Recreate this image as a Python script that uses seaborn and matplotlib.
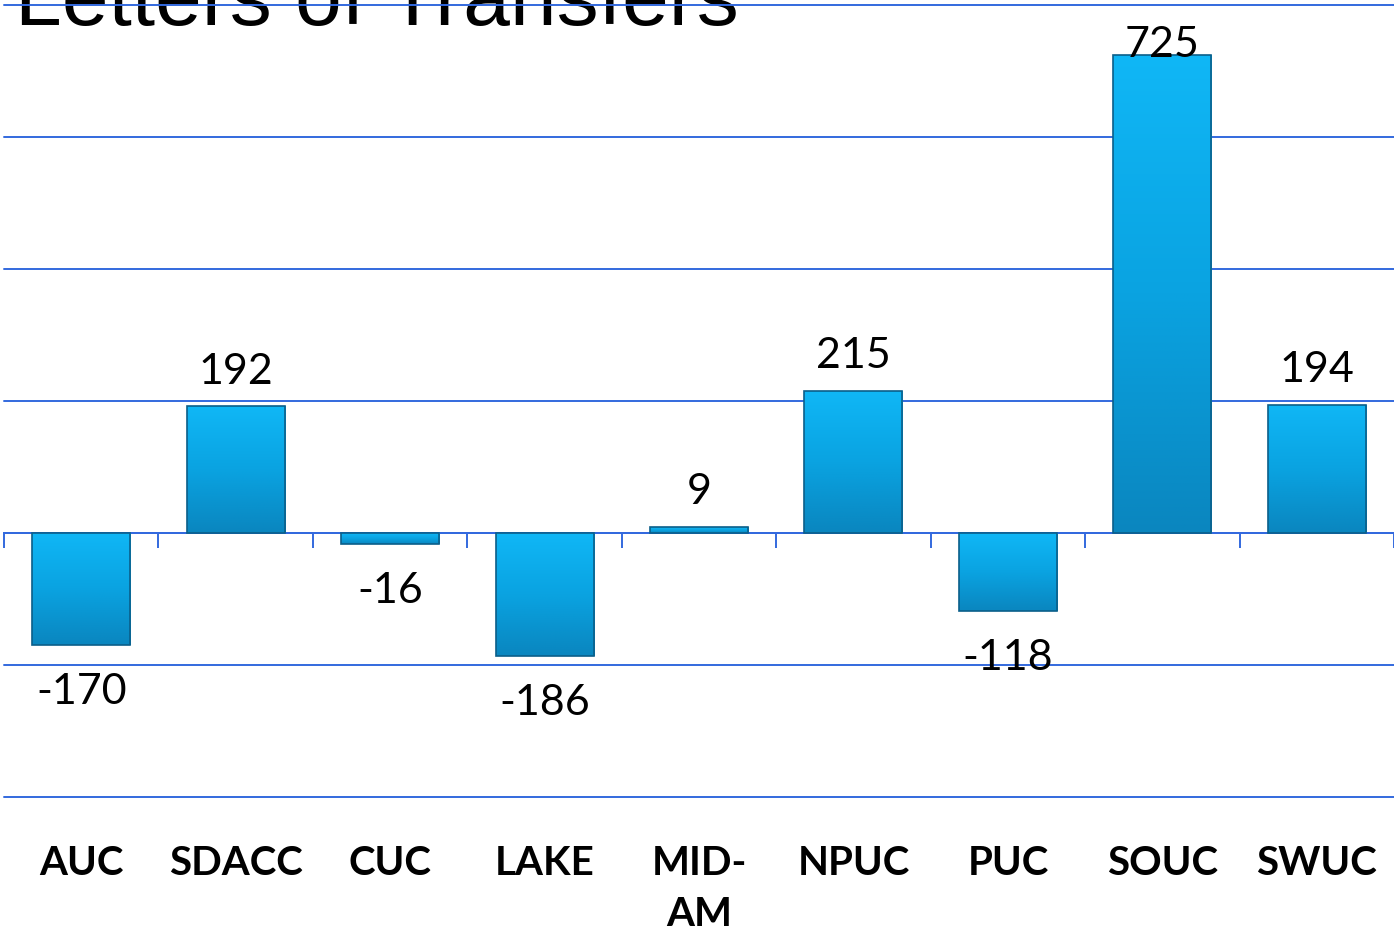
import numpy as np
import matplotlib
matplotlib.use("Agg")
import matplotlib.pyplot as plt
from matplotlib.colors import LinearSegmentedColormap
import seaborn as sns

# chart data
categories = ["AUC", "SDACC", "CUC", "LAKE", "MID-\nAM", "NPUC", "PUC", "SOUC", "SWUC"]
values = [-170, 192, -16, -186, 9, 215, -118, 725, 194]
title = "Letters of Transfers"

GRID_BLUE = "#3369de"
YMIN, YMAX = -400, 800

sns.set_theme(style="white")
plt.rcParams["font.family"] = ["Lato", "DejaVu Sans"]

fig = plt.figure(figsize=(13.94, 9.37), dpi=100)
ax = fig.add_axes([4 / 1394, 1 - 798 / 937, 1 - 4 / 1394, (798 - 6) / 937])
ax.patch.set_alpha(0)

sns.barplot(x=categories, y=values, color="#0aa6e6", saturation=1,
            width=0.635, edgecolor="#0b5f8a", linewidth=1.2, ax=ax, zorder=3)

# vertical gradient inside each bar, bar outline kept on top
cmap = LinearSegmentedColormap.from_list("bar", ["#0a86bf", "#0aa3e1", "#10b7f6"])
grad = np.linspace(0, 1, 256).reshape(-1, 1)
for p in ax.patches:
    x0, y0 = p.get_x(), p.get_y()
    w, h = p.get_width(), p.get_height()
    lo, hi = min(y0, y0 + h), max(y0, y0 + h)
    im = ax.imshow(grad, extent=[x0, x0 + w, lo, hi], origin="lower",
                   cmap=cmap, aspect="auto", zorder=3.5)
    im.set_clip_path(p)
    p.set_facecolor("none")
    p.set_zorder(4)

ax.set_xlim(-0.5, len(categories) - 0.5)
ax.set_ylim(YMIN, YMAX)
ax.set_yticks(range(YMIN, YMAX + 1, 200))
ax.set_yticklabels([])
ax.yaxis.grid(True, color=GRID_BLUE, linewidth=1.4)
for gl in ax.get_ygridlines():
    gl.set_clip_on(False)
ax.tick_params(axis="y", length=0)

for side in ["left", "right", "top"]:
    ax.spines[side].set_visible(False)
ax.spines["bottom"].set_position(("data", 0))
ax.spines["bottom"].set_color(GRID_BLUE)
ax.spines["bottom"].set_linewidth(1.4)
ax.spines["bottom"].set_zorder(2)

ax.set_xticks(np.arange(-0.5, len(categories), 1), minor=True)
ax.tick_params(axis="x", which="minor", length=11, width=1.4,
               color=GRID_BLUE, direction="out", bottom=True)
ax.tick_params(axis="x", which="major", length=0, pad=224)
ax.set_xticklabels(categories, fontsize=29, fontweight="bold",
                   color="black", linespacing=1.45)
ax.set_xlabel("")

# value labels
for i, v in enumerate(values):
    if v >= 0:
        y = min(v + 36, YMAX - 78)
    else:
        y = v - 88
    ax.text(i, y, str(v), ha="center", va="baseline", fontsize=31,
            color="black", zorder=5)

fig.text(15 / 1394, 1 - 25 / 937, title, fontsize=60.5, color="black",
         family="Liberation Sans", va="baseline", ha="left", zorder=-1)

fig.savefig("out.png", dpi=100)
